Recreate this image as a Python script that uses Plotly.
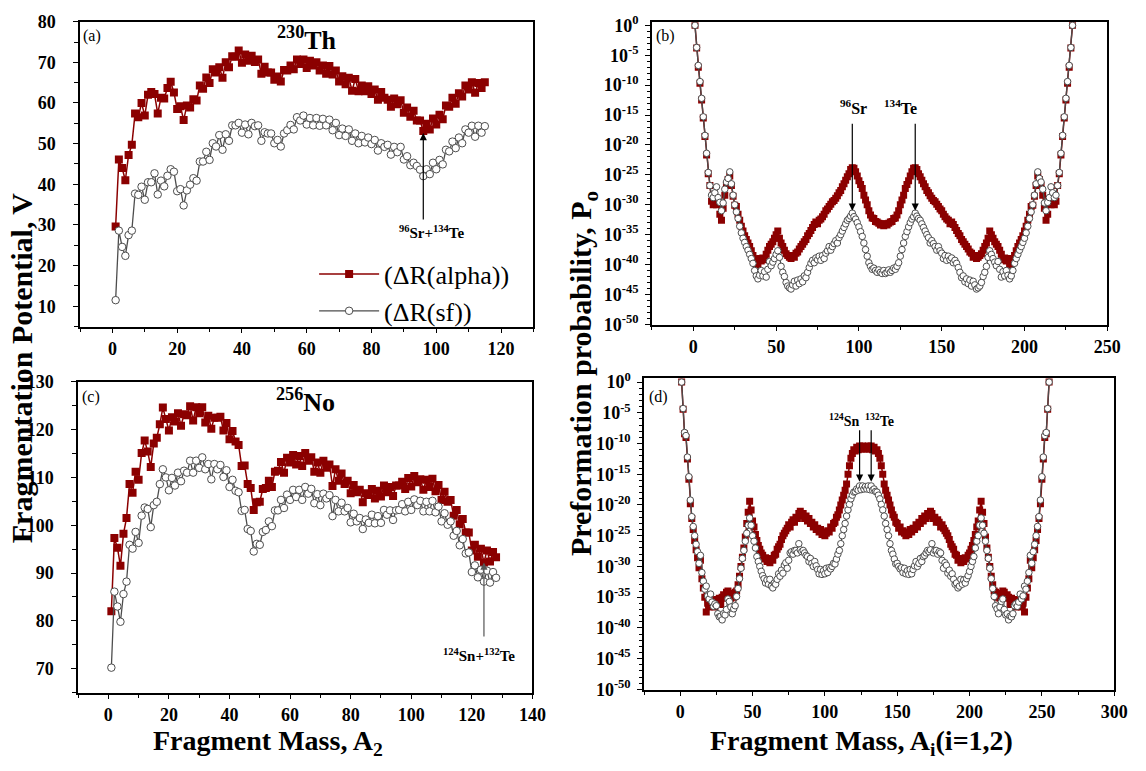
import plotly.graph_objects as go

# ---------------- data ----------------
# (a) 230Th fragmentation potential, A2 = 1..115
a_mass = list(range(1, 116))
a_alpha = [29.6, 46.1, 44.0, 41.0, 47.2, 49.7, 57.4, 56.5, 60.0, 56.9,
           62.0, 62.7, 62.2, 57.4, 61.3, 61.1, 63.7, 65.2, 62.6, 58.5,
           59.2, 55.8, 59.4, 58.9, 60.9, 60.6, 64.3, 63.5, 66.3, 64.9,
           68.3, 67.5, 68.8, 66.2, 70.0, 68.8, 71.5, 71.4, 72.9, 69.9,
           71.9, 70.4, 71.6, 70.1, 70.7, 67.2, 68.9, 67.5, 67.5, 65.7,
           66.5, 65.3, 68.1, 68.0, 69.2, 68.3, 70.7, 69.6, 70.7, 68.6,
           70.4, 69.2, 70.0, 68.0, 69.2, 67.2, 69.1, 67.0, 68.0, 65.3,
           66.6, 64.6, 66.2, 63.0, 65.9, 62.9, 64.3, 62.9, 64.1, 62.2,
           63.3, 60.8, 62.7, 61.3, 60.8, 59.1, 61.1, 59.7, 60.7, 57.6,
           58.9, 56.6, 58.1, 55.7, 55.7, 53.1, 54.9, 53.5, 56.2, 54.7,
           57.1, 56.0, 59.4, 59.1, 61.3, 59.8, 62.4, 61.6, 64.3, 63.3,
           65.1, 62.5, 64.9, 63.7, 65.1]
a_sf = [11.5, 28.6, 24.6, 22.4, 27.5, 28.6, 37.7, 37.4, 39.4, 36.2,
        40.5, 40.5, 42.7, 37.5, 40.9, 39.5, 42.1, 43.7, 43.1, 38.3,
        38.8, 34.8, 38.5, 39.9, 41.5, 40.9, 45.6, 45.6, 48.0, 46.0,
        50.1, 49.3, 52.1, 48.5, 52.3, 50.7, 54.5, 54.5, 55.1, 52.7,
        54.7, 52.3, 55.1, 54.3, 54.5, 50.7, 52.8, 52.5, 52.5, 50.1,
        50.9, 49.3, 52.5, 53.3, 54.6, 53.5, 56.5, 55.7, 56.9, 54.7,
        56.3, 54.5, 56.3, 54.4, 56.1, 54.5, 55.9, 53.3, 55.1, 52.1,
        53.7, 51.9, 53.5, 50.7, 52.5, 50.1, 51.9, 50.3, 51.5, 49.9,
        50.9, 48.3, 50.1, 49.2, 49.7, 47.3, 49.2, 47.9, 49.2, 46.1,
        46.9, 44.7, 45.3, 44.5, 43.6, 42.0, 43.7, 42.5, 45.3, 43.7,
        46.0, 44.9, 48.5, 48.1, 50.5, 48.9, 51.5, 50.1, 53.5, 52.7,
        54.4, 51.7, 54.4, 52.7, 54.3]

# (c) 256No fragmentation potential, A2 = 1..128
c_mass = list(range(1, 129))
c_alpha = [82.0, 97.3, 95.3, 91.5, 98.2, 101.5, 108.6, 106.8, 111.2, 109.5,
           115.1, 117.7, 115.4, 112.2, 117.1, 118.3, 121.1, 124.6, 122.2, 119.8,
           122.6, 121.7, 123.4, 120.8, 123.2, 123.0, 124.9, 121.9, 124.7, 123.4,
           124.7, 121.5, 122.9, 120.2, 122.5, 122.5, 122.7, 119.8, 121.4, 118.0,
           119.7, 117.5, 116.8, 112.4, 112.5, 108.6, 107.8, 103.2, 104.8, 104.9,
           107.6, 107.8, 109.3, 108.0, 111.2, 111.4, 113.2, 111.0, 114.1, 113.1,
           114.7, 112.7, 114.5, 112.4, 115.1, 113.5, 114.2, 111.2, 113.1, 111.0,
           113.5, 112.0, 112.7, 108.2, 111.7, 109.3, 110.8, 108.6, 109.3, 106.7,
           108.4, 106.9, 107.4, 104.8, 106.7, 106.3, 107.6, 105.6, 107.2, 106.0,
           108.3, 106.9, 108.0, 106.1, 108.3, 108.3, 109.1, 107.6, 109.9, 108.1,
           110.3, 109.0, 109.6, 107.4, 109.5, 108.0, 109.7, 107.1, 108.4, 105.3,
           107.0, 104.9, 105.3, 102.0, 103.2, 100.2, 101.3, 98.5, 98.5, 94.7,
           95.9, 93.4, 95.1, 92.2, 94.7, 92.4, 94.4, 93.3]
c_sf = [70.2, 86.1, 83.0, 79.8, 85.6, 88.2, 95.9, 95.1, 98.6, 96.3,
        102.0, 103.7, 103.4, 99.6, 104.2, 104.9, 108.6, 111.7, 110.0, 107.3,
        109.9, 108.3, 111.0, 109.2, 111.4, 111.0, 113.5, 111.0, 113.5, 112.0,
        114.2, 111.7, 112.8, 109.6, 112.8, 111.7, 112.6, 110.1, 111.5, 108.0,
        109.5, 107.2, 106.9, 103.0, 103.2, 99.2, 98.8, 94.5, 96.1, 95.9,
        98.6, 99.0, 100.8, 99.8, 103.1, 103.1, 105.3, 103.6, 106.4, 105.3,
        107.4, 105.9, 107.4, 105.3, 108.0, 106.6, 107.6, 104.6, 106.5, 104.2,
        106.6, 105.6, 106.3, 101.9, 105.3, 102.9, 104.7, 102.9, 103.6, 100.6,
        102.4, 100.8, 101.5, 99.2, 101.2, 100.5, 102.2, 100.4, 101.9, 100.5,
        103.2, 102.2, 103.1, 101.1, 103.1, 103.2, 104.4, 102.9, 104.9, 103.2,
        105.4, 104.2, 105.1, 102.9, 104.9, 102.9, 105.1, 102.7, 103.9, 100.8,
        102.5, 100.1, 100.8, 97.8, 98.8, 95.8, 97.1, 94.1, 94.3, 90.2,
        91.6, 89.1, 90.7, 88.2, 90.5, 88.0, 90.2, 89.0]

# (b) 230Th preformation probability, log10(P0) for A = 1..115;
# A and 230-A share the same value.
b_alpha_log_half = [
    0.0, -3.8, -7.0, -9.7, -12.5, -15.5, -18.6, -21.7, -24.8, -26.8,
    -29.4, -30.0, -28.8, -30.0, -29.4, -31.6, -32.6, -30.6, -28.4, -26.8,
    -25.8, -25.2, -26.8, -28.6, -30.1, -30.3, -31.6, -32.6, -33.6, -34.4,
    -35.2, -35.8, -36.4, -37.0, -37.7, -38.5, -39.2, -39.8, -40.1, -39.0,
    -39.4, -38.9, -39.2, -38.3, -37.6, -37.0, -36.6, -36.2, -35.6, -35.0,
    -34.4, -35.6, -36.4, -37.0, -37.6, -38.2, -38.5, -38.8, -39.0, -38.5,
    -38.8, -38.1, -37.9, -37.4, -37.0, -36.6, -36.2, -35.8, -35.2, -34.8,
    -34.3, -33.8, -33.3, -32.9, -33.2, -32.6, -32.4, -32.0, -31.6, -31.0,
    -30.7, -30.3, -29.9, -29.5, -29.3, -28.9, -28.5, -28.0, -27.6, -27.0,
    -26.5, -25.9, -25.3, -24.8, -24.1, -23.8, -23.9, -24.5, -25.2, -26.0,
    -26.6, -27.3, -28.4, -29.2, -30.0, -31.0, -31.7, -32.2, -32.3, -32.8,
    -32.9, -33.1, -33.4, -33.2, -33.5]
b_sf_log_half = [
    0.0, -3.7, -6.7, -9.4, -12.2, -15.3, -18.4, -21.4, -24.6, -26.8,
    -28.4, -28.8, -28.0, -27.0, -28.8, -29.6, -31.0, -29.7, -27.4, -26.2,
    -25.6, -24.5, -26.5, -28.4, -30.0, -31.2, -32.3, -33.6, -34.7, -35.6,
    -36.3, -37.0, -37.6, -38.3, -39.0, -39.8, -41.0, -41.9, -42.4, -41.8,
    -41.0, -41.9, -41.2, -42.1, -40.8, -39.5, -40.2, -39.6, -39.0, -38.3,
    -37.7, -38.8, -40.3, -41.3, -42.0, -43.0, -43.6, -43.9, -44.1, -43.4,
    -42.8, -43.6, -42.6, -43.2, -42.4, -42.9, -41.9, -42.2, -41.3, -40.5,
    -39.8, -39.3, -39.7, -38.9, -39.2, -38.6, -39.3, -38.5, -39.0, -38.1,
    -37.7, -37.0, -37.6, -37.0, -36.5, -36.0, -36.4, -35.5, -35.0, -34.4,
    -33.8, -33.2, -32.6, -32.3, -31.9, -31.4, -32.0, -32.4, -33.0, -33.7,
    -34.5, -35.3, -36.4, -37.5, -38.6, -39.7, -40.3, -40.8, -40.6, -41.0,
    -41.3, -40.9, -41.3, -41.5, -41.0]

# (d) 256No preformation probability, log10(P0) for A = 1..128;
# A and 256-A share the same value.
d_alpha_log_half = [
    0.0, -4.4, -8.4, -9.0, -12.5, -15.8, -19.8, -22.2, -24.0, -25.8,
    -27.3, -28.6, -30.2, -29.0, -32.0, -33.5, -35.0, -37.4, -36.0, -36.6,
    -35.6, -36.3, -35.8, -36.6, -35.4, -36.0, -35.2, -36.2, -35.0, -34.6,
    -35.2, -34.2, -34.0, -34.8, -35.2, -34.4, -35.0, -34.2, -34.0, -33.0,
    -31.6, -30.0, -28.5, -27.0, -25.2, -23.0, -21.2, -19.4, -20.8, -22.6,
    -23.6, -24.8, -25.8, -26.6, -27.2, -27.8, -28.2, -28.8, -28.6, -29.2,
    -28.8, -29.4, -28.7, -29.0, -28.2, -28.0, -27.2, -26.8, -26.4, -25.6,
    -25.0, -24.6, -24.2, -23.8, -23.2, -23.6, -22.8, -22.4, -22.8, -22.0,
    -22.2, -21.4, -21.0, -21.8, -21.4, -22.2, -21.8, -22.6, -22.2, -23.0,
    -22.8, -23.6, -23.2, -24.0, -23.8, -24.4, -24.0, -24.8, -24.4, -25.0,
    -24.6, -24.2, -24.4, -23.6, -23.8, -23.0, -22.8, -22.0, -21.6, -20.8,
    -20.0, -19.2, -18.4, -17.6, -16.6, -15.0, -13.6, -12.4, -11.6, -11.0,
    -11.2, -10.6, -11.0, -10.4, -10.9, -10.4, -10.9, -10.5]
d_sf_log_half = [
    0.0, -4.3, -8.2, -8.7, -12.2, -15.4, -19.2, -21.9, -23.5, -25.0,
    -26.4, -27.6, -29.5, -28.2, -31.0, -32.4, -33.7, -33.2, -34.8, -35.3,
    -34.5, -35.8, -36.5, -36.1, -36.4, -37.7, -38.2, -38.1, -38.7, -37.7,
    -37.9, -37.0, -35.3, -35.7, -36.6, -37.7, -36.9, -36.4, -34.9, -33.6,
    -32.0, -30.3, -28.7, -27.4, -25.9, -24.6, -23.3, -22.1, -23.3, -25.0,
    -25.9, -27.0, -28.4, -29.2, -30.0, -30.8, -31.5, -32.0, -32.7, -32.2,
    -32.9, -32.1, -33.2, -33.5, -32.7, -32.9, -32.1, -31.2, -31.6, -30.6,
    -31.1, -29.8, -29.4, -30.3, -29.0, -27.8, -27.6, -28.0, -27.4, -27.4,
    -27.8, -26.3, -27.3, -27.6, -27.4, -27.8, -28.2, -28.4, -29.2, -28.7,
    -29.5, -30.0, -29.2, -29.9, -30.5, -31.2, -30.5, -31.3, -30.7, -31.2,
    -30.3, -31.0, -30.2, -30.4, -30.0, -29.5, -29.6, -28.8, -28.0, -27.4,
    -26.3, -25.0, -24.0, -23.0, -21.8, -20.8, -19.9, -19.0, -18.4, -17.9,
    -17.8, -17.4, -17.6, -16.9, -17.5, -16.9, -17.4, -17.0]


def full_range(half):
    """A = 1..N/2 values extended to A = 1..N-1 (mirror about N/2)."""
    return half + half[:-1][::-1]


b_mass = list(range(1, 230))
d_mass = list(range(1, 256))
b_alpha = [10 ** v for v in full_range(b_alpha_log_half)]
b_sf = [10 ** v for v in full_range(b_sf_log_half)]
d_alpha = [10 ** v for v in full_range(d_alpha_log_half)]
d_sf = [10 ** v for v in full_range(d_sf_log_half)]

# ---------------- styling ----------------
W, H = 1146, 771
SERIF = "Liberation Serif"
RED = "#8b0000"
GREY = "#4d4d4d"


def px_x(p):
    return p / W


def px_y(p):
    return 1 - p / H


def alpha_trace(x, y, xa, ya, size, show):
    return go.Scatter(x=x, y=y, xaxis=xa, yaxis=ya, mode="lines+markers",
                      name="(ΔR(alpha))", showlegend=show,
                      line=dict(color=RED, width=1.5),
                      marker=dict(symbol="square", size=size, color=RED,
                                  line=dict(width=0)))


def sf_trace(x, y, xa, ya, size, show):
    return go.Scatter(x=x, y=y, xaxis=xa, yaxis=ya, mode="lines+markers",
                      name="(ΔR(sf))", showlegend=show,
                      line=dict(color=GREY, width=1.3),
                      marker=dict(symbol="circle", size=size, color="white",
                                  line=dict(color=GREY, width=1)))


fig = go.Figure()
fig.add_trace(alpha_trace(a_mass, a_alpha, "x", "y", 8, True))
fig.add_trace(sf_trace(a_mass, a_sf, "x", "y", 7.5, True))
fig.add_trace(alpha_trace(b_mass, b_alpha, "x2", "y2", 7, False))
fig.add_trace(sf_trace(b_mass, b_sf, "x2", "y2", 6.5, False))
fig.add_trace(alpha_trace(c_mass, c_alpha, "x3", "y3", 8, False))
fig.add_trace(sf_trace(c_mass, c_sf, "x3", "y3", 7.5, False))
fig.add_trace(alpha_trace(d_mass, d_alpha, "x4", "y4", 7, False))
fig.add_trace(sf_trace(d_mass, d_sf, "x4", "y4", 6.5, False))

tickfont = dict(family=SERIF, size=18, color="black", weight="bold")


def axis(domain, rng, anchor, dtick, minor_dtick, **kw):
    d = dict(domain=domain, range=rng, anchor=anchor, showline=True,
             linecolor="black", linewidth=1.5, mirror=True, ticks="outside",
             ticklen=5, tickwidth=1.2, tickcolor="black", showgrid=False,
             zeroline=False, tickfont=tickfont, dtick=dtick, tick0=0,
             minor=dict(ticks="outside", ticklen=4, tickwidth=1,
                        tickcolor="black", dtick=minor_dtick, tick0=0,
                        showgrid=False))
    d.update(kw)
    return d


log_major = [10.0 ** (-k) for k in range(0, 51, 5)]
log_text = ["10<sup>%d</sup>" % (-k) if k else "10<sup>0</sup>"
            for k in range(0, 51, 5)]
log_minor = [10.0 ** (-k) for k in range(0, 51)]


def log_axis(domain, rng, anchor):
    return dict(domain=domain, range=rng, anchor=anchor, type="log",
                showline=True, linecolor="black", linewidth=1.5, mirror=True,
                ticks="outside", ticklen=5, tickwidth=1.2, tickcolor="black",
                showgrid=False, zeroline=False, tickfont=tickfont,
                tickmode="array", tickvals=log_major, ticktext=log_text,
                ticklabelstandoff=3,
                minor=dict(ticks="outside", ticklen=3, tickwidth=1,
                           tickcolor="black", tickmode="array",
                           tickvals=log_minor, showgrid=False))


fig.update_layout(
    width=W, height=H,
    margin=dict(l=0, r=0, t=0, b=0),
    paper_bgcolor="white", plot_bgcolor="white",
    font=dict(family=SERIF, color="black"),
    xaxis=axis([px_x(81), px_x(540)], [-10, 130], "y", 20, 10),
    yaxis=axis([px_y(325), px_y(12)], [5, 80], "x", 10, 5,
               ticklabelstandoff=14),
    xaxis2=axis([px_x(660), px_x(1121)], [-25, 250], "y2", 50, 25),
    yaxis2=log_axis([px_y(323), px_y(12.7)], [-50.05, 0.5], "x2"),
    xaxis3=axis([px_x(79), px_x(539)], [-10, 140], "y3", 20, 10),
    yaxis3=axis([px_y(700.7), px_y(381.7)], [65, 130], "x3", 10, 5,
                ticklabelstandoff=14),
    xaxis4=axis([px_x(652), px_x(1128)], [-25, 300], "y4", 50, 25),
    yaxis4=log_axis([px_y(697.7), px_y(377.3)], [-50.05, 0.75], "x4"),
    legend=dict(x=px_x(318), y=px_y(247), xanchor="left", yanchor="top",
                bgcolor="rgba(0,0,0,0)", itemwidth=60, tracegroupgap=0,
                font=dict(family=SERIF, size=26, color="black")),
)

ann = []


def text(x, y, s, size, bold=True, xref="paper", yref="paper", **kw):
    d = dict(x=x, y=y, xref=xref, yref=yref, text=s, showarrow=False,
             xanchor="center", yanchor="middle",
             font=dict(family=SERIF, size=size, color="black",
                       weight="bold" if bold else "normal"))
    d.update(kw)
    ann.append(d)


def arrow(x, y_head, y_tail, xr, yr, color="black"):
    ann.append(dict(x=x, y=y_head, ax=x, ay=y_tail, xref=xr, yref=yr,
                    axref=xr, ayref=yr, text="", showarrow=True,
                    arrowhead=2, arrowsize=1.2, arrowwidth=1.2,
                    arrowcolor=color))


# panel tags and nucleus labels
text(px_x(93), px_y(27), "(a)", 16, bold=False)
text(px_x(674), px_y(27), "(b)", 16, bold=False)
text(px_x(92), px_y(397), "(c)", 16, bold=False)
text(px_x(667), px_y(397), "(d)", 16, bold=False)
text(px_x(311), px_y(29), "<sup>230</sup>Th", 26)
text(px_x(309), px_y(401), "<sup>256</sup>No", 26)

# marked fragmentations
arrow(96, 52.6, 31.0, "x", "y")
text(98.5, 28.3, "<sup>96</sup>Sr+<sup>134</sup>Te", 15, xref="x", yref="y")
arrow(96, -31.0, -16.2, "x2", "y2")
arrow(134, -31.0, -16.2, "x2", "y2")
text(96.7, -13.6, "<sup>96</sup>Sr", 16, xref="x2", yref="y2")
text(124.9, -13.6, "<sup>134</sup>Te", 16, xref="x2", yref="y2")
arrow(124, 92.2, 76.4, "x3", "y3", color="#555555")
text(122.5, 72.8, "<sup>124</sup>Sn+<sup>132</sup>Te", 15,
     xref="x3", yref="y3")
arrow(124, -16.2, -7.6, "x4", "y4")
arrow(132, -16.2, -7.6, "x4", "y4")
text(113.5, -6.2, "<sup>124</sup>Sn", 14, xref="x4", yref="y4")
text(137.5, -6.2, "<sup>132</sup>Te", 14, xref="x4", yref="y4")

# shared axis titles
text(px_x(22), px_y(367), "Fragmentation Potential, V", 30, textangle=-90)
text(px_x(591), px_y(373), "Preformation probability, P<sub>o</sub>", 30,
     textangle=-90)
text(px_x(271), px_y(752), "Fragment Mass, A<sub>2</sub>", 28)
text(px_x(872), px_y(752), "Fragment Mass, A<sub>i</sub>(i=1,2)", 28)

fig.update_layout(annotations=ann)
fig.write_html("out.html")
